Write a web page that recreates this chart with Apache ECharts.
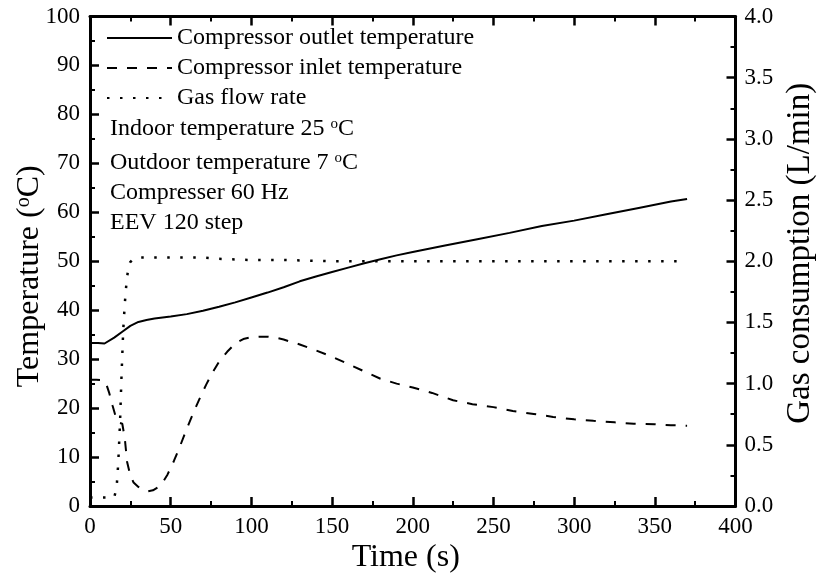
<!DOCTYPE html>
<html>
<head>
<meta charset="utf-8">
<script src="https://cdn.jsdelivr.net/npm/echarts@6/dist/echarts.min.js"></script>
<style>
  html, body { margin: 0; padding: 0; background: #fff; }
  #chart { width: 820px; height: 579px; }
</style>
</head>
<body>
<div id="chart"></div>
<script>
// Compressor outlet temperature (°C) vs time (s)
var outletTime = [0, 5, 9, 15, 20, 25, 30, 35, 40, 50, 60, 70, 80, 90, 100, 110, 120, 130, 140, 150, 160, 170, 180, 190, 200, 220, 240, 260, 280, 300, 320, 340, 360, 370];
var outletTemp = [33.3, 33.3, 33.2, 34.4, 35.6, 36.8, 37.6, 38.0, 38.3, 38.7, 39.2, 39.9, 40.7, 41.6, 42.6, 43.6, 44.7, 45.9, 46.9, 47.8, 48.7, 49.6, 50.4, 51.2, 51.9, 53.2, 54.5, 55.8, 57.2, 58.3, 59.6, 60.9, 62.2, 62.7];

// Compressor inlet temperature (°C) vs time (s)
var inletTime = [0, 4, 8, 10, 12, 14, 16, 18, 20, 21.5, 23, 25, 27, 30, 33, 36, 39, 42, 45, 48, 52, 56, 60, 64, 68, 72, 76, 80, 85, 90, 95, 100, 105, 110, 115, 120, 130, 140, 150, 160, 170, 180, 190, 200, 212, 225, 237, 250, 262, 275, 287, 300, 312, 325, 337, 350, 360, 370];
var inletTemp = [25.8, 25.8, 25.7, 25.0, 23.0, 20.5, 18.2, 17.0, 16.8, 14.0, 9.0, 6.2, 4.8, 3.9, 3.3, 3.0, 3.2, 3.8, 4.8, 6.4, 9.2, 12.4, 15.8, 19.0, 22.0, 24.8, 27.3, 29.5, 31.5, 33.2, 34.1, 34.5, 34.6, 34.6, 34.4, 34.0, 33.0, 31.8, 30.5, 29.0, 27.5, 26.0, 25.0, 24.2, 23.1, 21.6, 20.8, 20.2, 19.4, 18.8, 18.2, 17.7, 17.4, 17.1, 16.8, 16.7, 16.5, 16.4];

// Gas flow rate (L/min) vs time (s)
var gasTime = [0, 5, 10, 15, 15.5, 16.5, 17.5, 18.6, 19.6, 20.6, 21.6, 22.7, 23.7, 24.8, 27, 30, 40, 50, 60, 70, 80, 100, 120, 150, 200, 250, 300, 350, 367];
var gasFlow = [0.07, 0.07, 0.07, 0.07, 0.08, 0.15, 0.35, 0.68, 1.09, 1.44, 1.66, 1.84, 1.94, 1.99, 2.02, 2.03, 2.03, 2.03, 2.03, 2.03, 2.02, 2.01, 2.01, 2.0, 2.0, 2.0, 2.0, 2.0, 2.0];

var seriesNames = ['Compressor outlet temperature', 'Compressor inlet temperature', 'Gas flow rate'];
var conditionLines = [
  '{n|Indoor temperature 25 }{s|o}{n|C}',
  '{n|Outdoor temperature 7 }{s|o}{n|C}',
  '{n|Compresser 60 Hz}',
  '{n|EEV 120 step}'
];

function pairs(xs, ys) {
  return xs.map(function (x, i) { return [x, ys[i]]; });
}

var FONT = "'Liberation Serif', 'Times New Roman', serif";
var INK = '#000';

function frameAxis(extra) {
  var base = {
    type: 'value',
    nameMoveOverlap: false,
    axisLine: { show: true, onZero: false, lineStyle: { color: INK, width: 3 } },
    axisTick: { show: true, inside: true, length: 9, lineStyle: { color: INK, width: 2.5 } },
    minorTick: { show: true, splitNumber: 2, length: 5, lineStyle: { color: INK, width: 2 } },
    splitLine: { show: false },
    minorSplitLine: { show: false },
    axisLabel: { color: INK, fontSize: 23, fontFamily: FONT, margin: 9 },
    nameTextStyle: { color: INK, fontSize: 32, fontFamily: FONT }
  };
  return Object.assign(base, extra);
}

var chart = echarts.init(document.getElementById('chart'), null, { renderer: 'canvas' });

var richSup = {
  n: { fontSize: 24, fontFamily: FONT, color: INK },
  s: { fontSize: 15, fontFamily: FONT, color: INK, verticalAlign: 'top', lineHeight: 12 }
};

var conditionY = [128, 162, 192, 222];

chart.setOption({
  animation: false,
  backgroundColor: '#fff',
  grid: { left: 90, top: 16.5, right: 84.5, bottom: 73, containLabel: false, outerBoundsMode: 'none' },
  legend: {
    orient: 'vertical',
    left: 106,
    top: 26,
    padding: 0,
    itemWidth: 65,
    itemHeight: 14,
    itemGap: 6,
    data: seriesNames,
    itemStyle: { opacity: 0 },
    textStyle: { color: INK, fontSize: 24, fontFamily: FONT }
  },
  xAxis: [
    frameAxis({
      position: 'bottom', min: 0, max: 400, interval: 50,
      name: 'Time (s)', nameLocation: 'middle', nameGap: 36,
      nameTextStyle: { color: INK, fontSize: 32, fontFamily: FONT, padding: [0, 14, 0, 0] }
    }),
    frameAxis({
      position: 'top', min: 0, max: 400, interval: 50,
      axisLabel: { show: false }
    })
  ],
  yAxis: [
    frameAxis({
      position: 'left', min: 0, max: 100, interval: 10,
      axisLabel: { color: INK, fontSize: 23, fontFamily: FONT, margin: 10 },
      name: '{t|Temperature (}{s|o}{t|C)}', nameLocation: 'middle', nameGap: 44,
      nameTextStyle: {
        color: INK, fontSize: 32, fontFamily: FONT, padding: [0, 30, 0, 0],
        rich: {
          t: { fontSize: 32, fontFamily: FONT, color: INK },
          s: { fontSize: 20, fontFamily: FONT, color: INK, verticalAlign: 'top', lineHeight: 14 }
        }
      }
    }),
    frameAxis({
      position: 'right', min: 0, max: 4, interval: 0.5,
      axisLabel: {
        color: INK, fontSize: 23, fontFamily: FONT, margin: 9,
        formatter: function (v) { return v.toFixed(1); }
      },
      name: 'Gas consumption (L/min)', nameLocation: 'middle', nameGap: 48,
      nameTextStyle: { color: INK, fontSize: 33, fontFamily: FONT, padding: [0, 0, 0, 16] }
    })
  ],
  series: [
    {
      name: seriesNames[0], type: 'line', xAxisIndex: 0, yAxisIndex: 0,
      data: pairs(outletTime, outletTemp),
      symbol: 'none', showSymbol: false,
      lineStyle: { color: INK, width: 2 },
      itemStyle: { color: INK }
    },
    {
      name: seriesNames[1], type: 'line', xAxisIndex: 0, yAxisIndex: 0,
      data: pairs(inletTime, inletTemp),
      symbol: 'none', showSymbol: false,
      lineStyle: { color: INK, width: 2, type: [10, 10] },
      itemStyle: { color: INK }
    },
    {
      name: seriesNames[2], type: 'line', xAxisIndex: 0, yAxisIndex: 1,
      data: pairs(gasTime, gasFlow),
      symbol: 'none', showSymbol: false,
      lineStyle: { color: INK, width: 2.5, type: [2.5, 10.5] },
      itemStyle: { color: INK }
    }
  ],
  graphic: conditionLines.map(function (txt, i) {
    return {
      type: 'text',
      left: 110,
      top: conditionY[i] - 11,
      silent: true,
      style: {
        text: txt,
        rich: richSup,
        fill: INK,
        fontSize: 24,
        fontFamily: FONT
      }
    };
  })
});
</script>
</body>
</html>
